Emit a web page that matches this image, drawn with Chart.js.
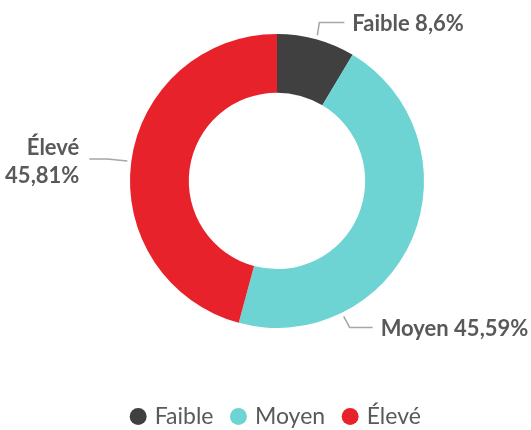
<!DOCTYPE html>
<html>
<head>
<meta charset="utf-8">
<script src="https://cdn.jsdelivr.net/npm/chart.js@4"></script>
<style>
  html, body { margin: 0; padding: 0; background: #fff; }
  #wrap { width: 531px; height: 430px; }
</style>
</head>
<body>
<div id="wrap"><canvas id="riskChart" width="531" height="430"></canvas></div>
<script>
// Data
const categories = ['Faible', 'Moyen', 'Élevé'];
const shares = [8.6, 45.59, 45.81];
const shareLabels = ['8,6%', '45,59%', '45,81%'];
const sliceColors = ['#404040', '#6DD3D3', '#E8222A'];

const textGrey = '#595959';
const lineGrey = '#A6A6A6';
const fontFamily = 'Lato, "Open Sans", sans-serif';

// Callout labels drawn outside the ring with a short leader line
const calloutPlugin = {
    id: 'callouts',
    afterDraw(chart) {
        const ctx = chart.ctx;
        const arc = chart.getDatasetMeta(0).data[0];
        const cx = arc.x, cy = arc.y, r = arc.outerRadius;
        // angle (deg, canvas) where each leader starts, and how it bends
        const anchors = [
            { ang: -74.5, bend: [2, -13], end: [27, -13], align: 'left', lines: [categories[0] + ' ' + shareLabels[0]] },
            { ang: 63.8, bend: [6, 11], end: [29, 11], align: 'left', lines: [categories[1] + ' ' + shareLabels[1]] },
            { ang: 187.6, bend: [-20, -2], end: [-38, -2], align: 'right', lines: [categories[2], shareLabels[2]] }
        ];
        ctx.save();
        ctx.strokeStyle = lineGrey;
        ctx.lineWidth = 1.5;
        ctx.fillStyle = textGrey;
        ctx.font = 'bold 22px ' + fontFamily;
        ctx.textBaseline = 'middle';
        anchors.forEach(a => {
            const t = a.ang * Math.PI / 180;
            const x0 = cx + (r + 4) * Math.cos(t);
            const y0 = cy + (r + 4) * Math.sin(t);
            ctx.beginPath();
            ctx.moveTo(x0, y0);
            ctx.lineTo(x0 + a.bend[0], y0 + a.bend[1]);
            ctx.lineTo(x0 + a.end[0], y0 + a.end[1]);
            ctx.stroke();
            ctx.textAlign = a.align;
            const tx = x0 + a.end[0] + (a.align === 'left' ? 8 : -10);
            const ty = y0 + a.end[1] + 2;
            if (a.lines.length === 1) {
                ctx.fillText(a.lines[0], tx, ty);
            } else {
                ctx.fillText(a.lines[0], tx, ty - 13);
                ctx.fillText(a.lines[1], tx, ty + 15);
            }
        });
        ctx.restore();
    }
};

new Chart(document.getElementById('riskChart').getContext('2d'), {
    type: 'doughnut',
    data: {
        labels: categories,
        datasets: [{
            data: shares,
            backgroundColor: sliceColors,
            borderWidth: 0,
            radius: 147
        }]
    },
    options: {
        responsive: false,
        animation: false,
        cutout: '60%',
        layout: { padding: { left: 23, right: 0, top: 33, bottom: -8 } },
        plugins: {
            tooltip: { enabled: false },
            legend: {
                position: 'bottom',
                // empty title only used as a spacer between ring and legend
                title: { display: true, text: ' ', font: { size: 1 }, padding: { top: 0, bottom: 55 } },
                labels: {
                    usePointStyle: true,
                    pointStyle: 'circle',
                    boxWidth: 10,
                    boxHeight: 12,
                    padding: 20,
                    color: textGrey,
                    font: { size: 23, family: fontFamily }
                }
            }
        }
    },
    plugins: [calloutPlugin]
});
</script>
</body>
</html>
